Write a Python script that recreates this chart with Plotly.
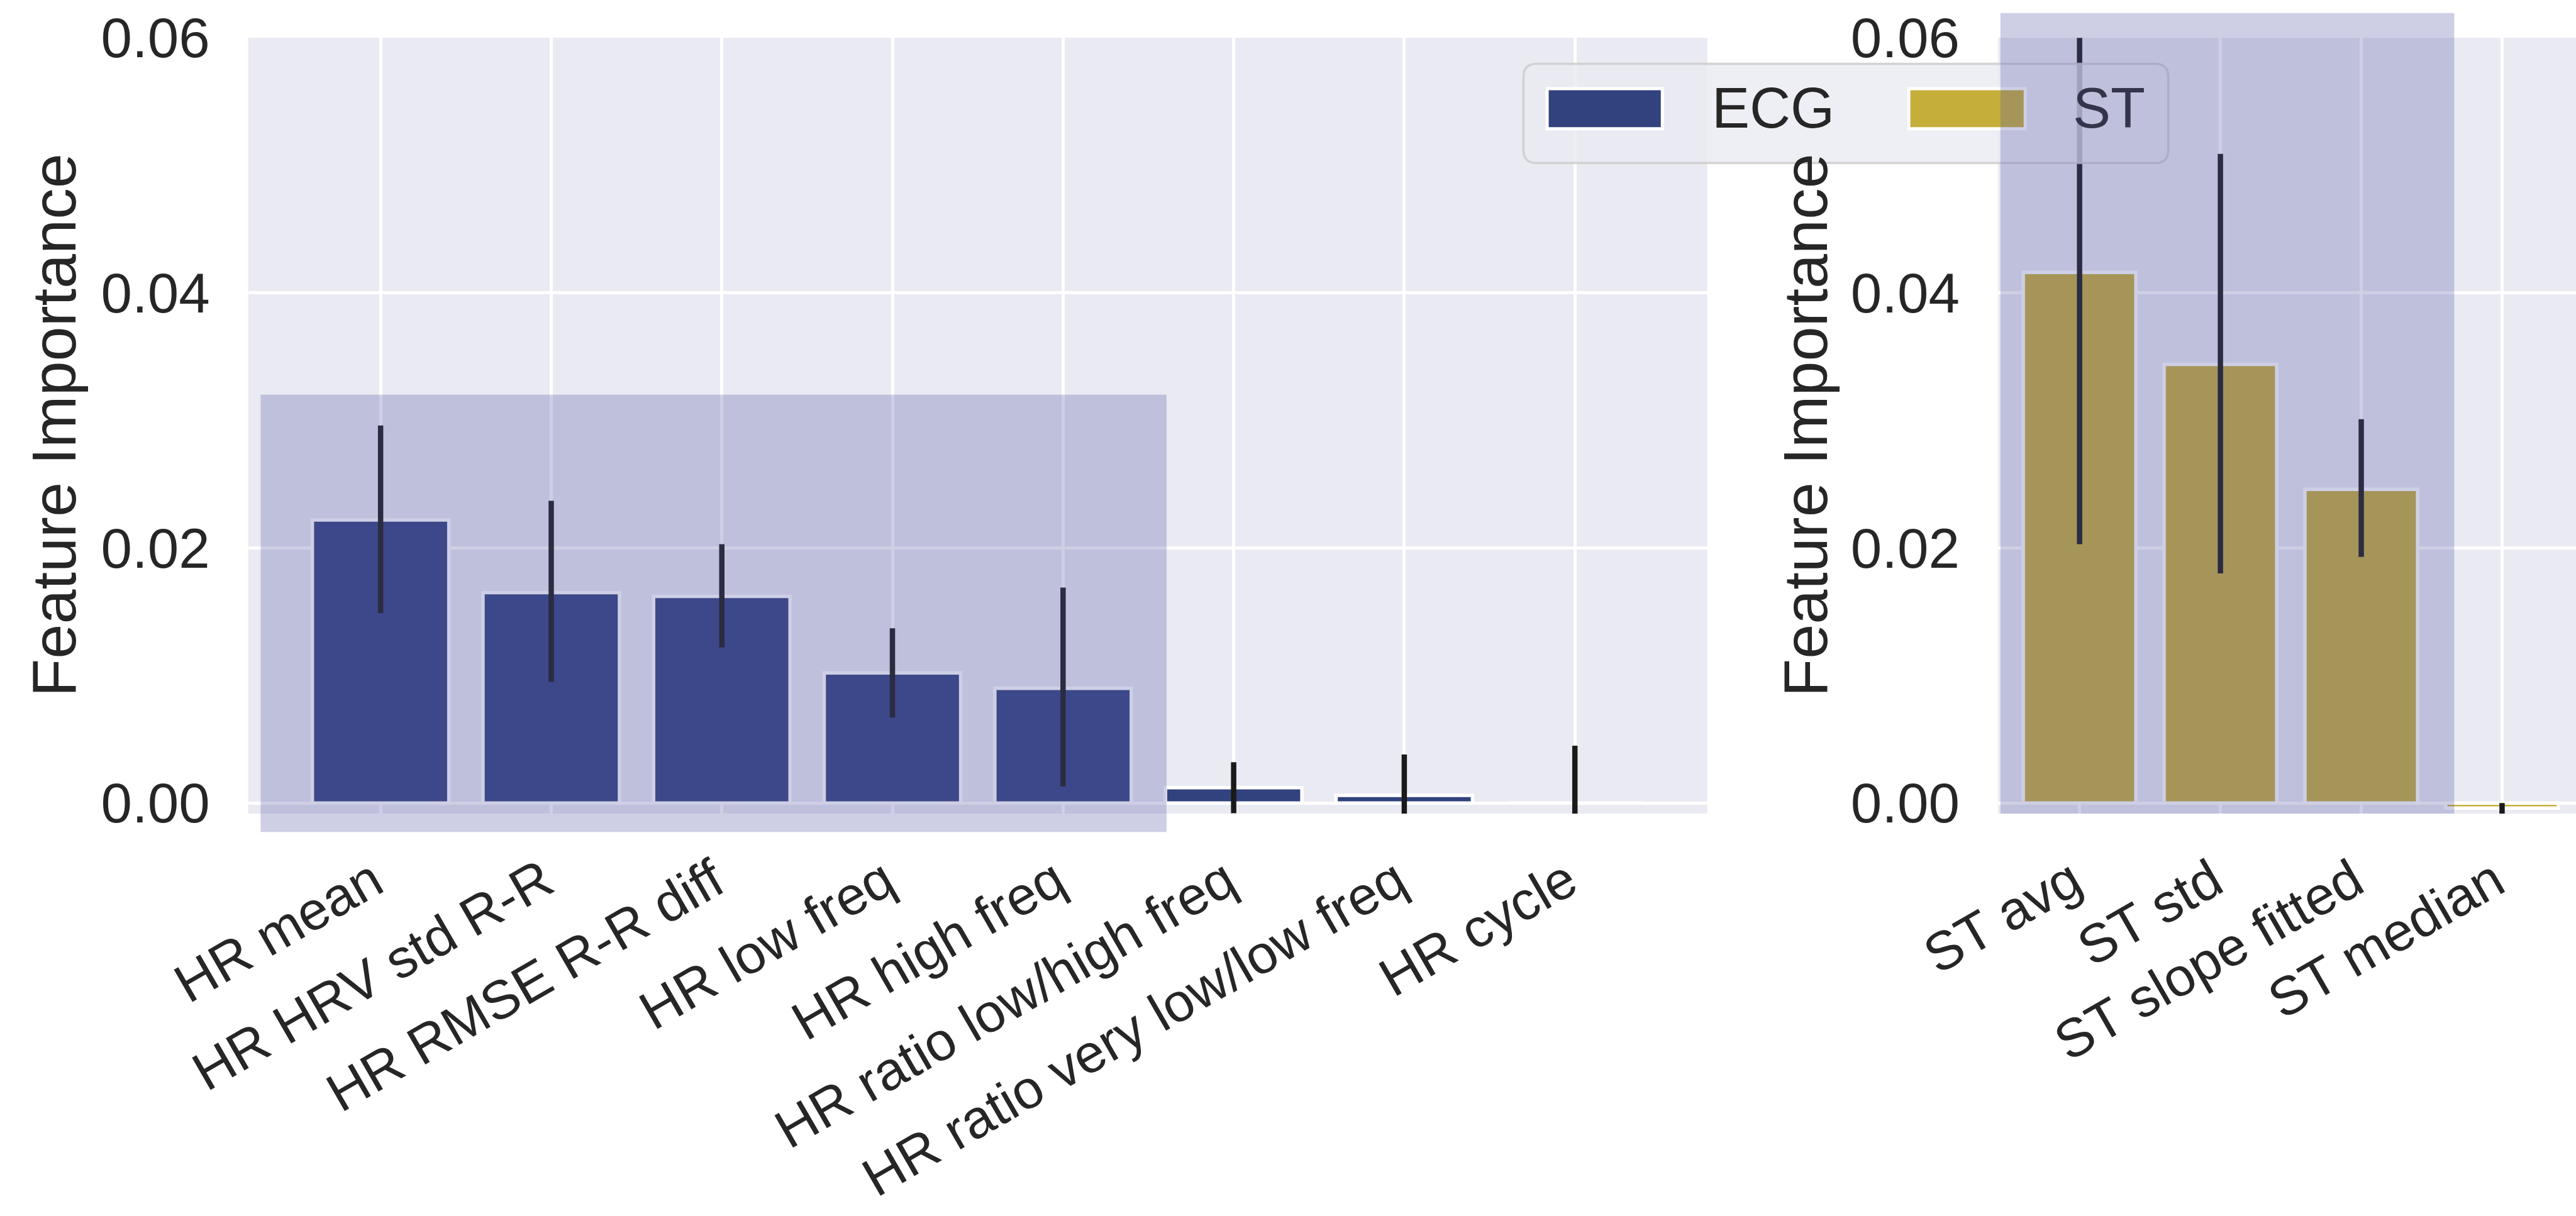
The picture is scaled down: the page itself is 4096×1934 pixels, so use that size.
import plotly.graph_objects as go

# ---------------- data ----------------
ecg_features = ["HR mean", "HR HRV std R-R", "HR RMSE R-R diff", "HR low freq",
                "HR high freq", "HR ratio low/high freq", "HR ratio very low/low freq", "HR cycle"]
ecg_importance = [0.0222, 0.0165, 0.0162, 0.0102, 0.0090, 0.0012, 0.0006, 0.0000]
ecg_err_upper = [0.0296, 0.0237, 0.0203, 0.0137, 0.0169, 0.0032, 0.0038, 0.0045]
ecg_err_lower = [0.0149, 0.0095, 0.0122, 0.0067, 0.0013, -0.0008, -0.0026, -0.0045]

st_features = ["ST avg", "ST std", "ST slope fitted", "ST median"]
st_importance = [0.0416, 0.0344, 0.0246, -0.0004]
st_err_upper = [0.0630, 0.0509, 0.0301, 0.0000]
st_err_lower = [0.0203, 0.0180, 0.0193, -0.0012]

y_ticks = [0.00, 0.02, 0.04, 0.06]
legend_names = ["ECG", "ST"]

# ---------------- styling ----------------
W, H = 4096, 1934
RW, RH = 4359.0, 2058.0          # reference pixel frame
def px(x): return x / RW
def py(y): return 1 - y / RH

ECG_COLOR = "rgb(50,66,126)"
ST_COLOR = "rgb(198,174,58)"
ERR_COLOR = "#1a1a1a"
TEXT = "#262626"
FONT = "Liberation Sans, Arial, sans-serif"
XTICK_SIZE = 86
YTICK_SIZE = 89
LEGEND_SIZE = 90
LABEL_SIZE = 99
HIGHLIGHT = "rgba(87,91,164,0.29)"

fig = go.Figure()

def add_bars(names, vals, up, lo, color, xa, ya):
    fig.add_trace(go.Bar(
        x=names, y=vals, width=0.8,
        marker=dict(color=color, line=dict(color="white", width=5.5)),
        error_y=dict(type="data", symmetric=False,
                     array=[u - v for u, v in zip(up, vals)],
                     arrayminus=[v - l for v, l in zip(vals, lo)],
                     color=ERR_COLOR, thickness=8.5, width=0),
        xaxis=xa, yaxis=ya, showlegend=False,
    ))

add_bars(ecg_features, ecg_importance, ecg_err_upper, ecg_err_lower, ECG_COLOR, "x", "y")
add_bars(st_features, st_importance, st_err_upper, st_err_lower, ST_COLOR, "x2", "y2")

yr = [-0.00083, 0.0600]
ydom = [py(1377), py(64)]

axis_common = dict(showgrid=True, gridcolor="white", gridwidth=5, zeroline=False,
                   showline=False, ticks="", automargin=False)
xtick = dict(tickangle=-30, ticklabelstandoff=40, ticklabelshift=-12,
             tickfont=dict(family=FONT, size=XTICK_SIZE, color=TEXT))
ytick = dict(tickvals=y_ticks, tickformat=".2f", ticklabelstandoff=60,
             tickfont=dict(family=FONT, size=YTICK_SIZE, color=TEXT))

fig.update_layout(
    width=W, height=H,
    margin=dict(l=0, r=0, t=0, b=0, pad=0, autoexpand=False),
    paper_bgcolor="white", plot_bgcolor="#EAEAF2",
    font=dict(family=FONT, color=TEXT),
    bargap=0.2,
    xaxis=dict(domain=[px(420), px(2889)], range=[-0.776, 7.776], anchor="y",
               **xtick, **axis_common),
    yaxis=dict(domain=ydom, range=yr, anchor="x", **ytick, **axis_common),
    xaxis2=dict(domain=[px(3381), 1.0], range=[-0.579, 3.525], anchor="y2",
                **xtick, **axis_common),
    yaxis2=dict(domain=ydom, range=yr, anchor="x2", **ytick, **axis_common),
)

# ---------------- legend (drawn manually so the highlight box can overlay it) ----------------
def rounded_rect(x0, y0, x1, y1, r):
    rx, ry = r / RW, r / RH
    X0, X1, Y0, Y1 = px(x0), px(x1), py(y1), py(y0)
    return (f"M {X0+rx},{Y0} L {X1-rx},{Y0} Q {X1},{Y0} {X1},{Y0+ry} "
            f"L {X1},{Y1-ry} Q {X1},{Y1} {X1-rx},{Y1} L {X0+rx},{Y1} "
            f"Q {X0},{Y1} {X0},{Y1-ry} L {X0},{Y0+ry} Q {X0},{Y0} {X0+rx},{Y0} Z")

shapes = []
shapes.append(dict(type="path", xref="paper", yref="paper", layer="above",
                   path=rounded_rect(2578, 108, 3669, 276, 22),
                   fillcolor="rgba(234,234,242,0.8)",
                   line=dict(color="rgba(204,204,204,0.85)", width=3.5)))
for (x0, x1), col in zip([(2618, 2813), (3230, 3427)], [ECG_COLOR, ST_COLOR]):
    shapes.append(dict(type="rect", xref="paper", yref="paper", layer="above",
                       x0=px(x0), x1=px(x1), y0=py(218), y1=py(150),
                       fillcolor=col, line=dict(color="white", width=5)))

# highlight boxes
shapes.append(dict(type="rect", xref="paper", yref="paper", layer="above",
                   x0=px(441), x1=px(1974), y0=py(1408), y1=py(668),
                   fillcolor=HIGHLIGHT, line=dict(width=0)))
shapes.append(dict(type="rect", xref="paper", yref="paper", layer="above",
                   x0=px(3385), x1=px(4153), y0=py(1377), y1=py(22),
                   fillcolor=HIGHLIGHT, line=dict(width=0)))
fig.update_layout(shapes=shapes)

annotations = [
    dict(text=legend_names[0], x=px(2895), y=py(183), xref="paper", yref="paper",
         xanchor="left", yanchor="middle", showarrow=False,
         font=dict(family=FONT, size=LEGEND_SIZE, color=TEXT)),
    dict(text=legend_names[1], x=px(3505), y=py(183), xref="paper", yref="paper",
         xanchor="left", yanchor="middle", showarrow=False,
         font=dict(family=FONT, size=LEGEND_SIZE, color="rgb(52,53,74)")),
    dict(text="Feature Importance", x=px(91), y=py(720), xref="paper", yref="paper",
         xanchor="center", yanchor="middle", textangle=-90, showarrow=False,
         font=dict(family=FONT, size=LABEL_SIZE, color=TEXT)),
    dict(text="Feature Importance", x=px(3055), y=py(720), xref="paper", yref="paper",
         xanchor="center", yanchor="middle", textangle=-90, showarrow=False,
         font=dict(family=FONT, size=LABEL_SIZE, color=TEXT)),
]
fig.update_layout(annotations=annotations)

fig.write_html("out.html", config={"displayModeBar": False},
               post_script="document.body.style.margin='0';document.body.style.overflow='hidden';")
